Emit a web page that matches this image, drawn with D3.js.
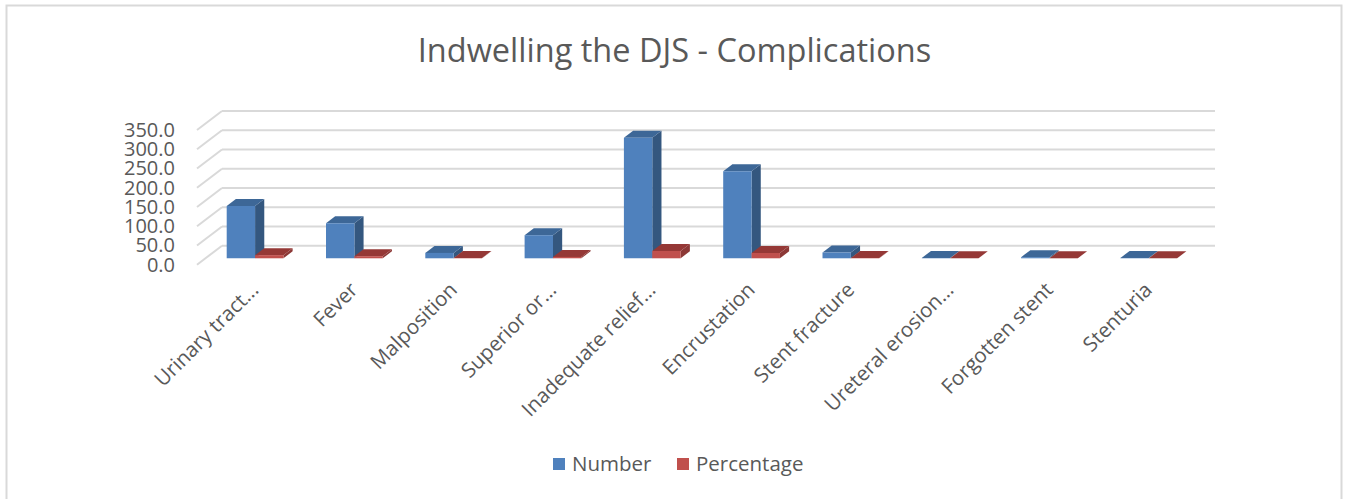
<!DOCTYPE html>
<html lang="en">
<head>
  <meta charset="UTF-8">
  <title>Indwelling the DJS - Complications</title>
  <style>
    body{ margin:0; background:#fff; }
    svg{ display:block; font-family:"Open Sans", sans-serif; }
  </style>
</head>
<body>
  <script src="https://cdn.jsdelivr.net/npm/d3@7"></script>
  <script>
    const categories = ['Urinary tract...', 'Fever', 'Malposition', 'Superior or...', 'Inadequate relief...',
      'Encrustation', 'Stent fracture', 'Ureteral erosion...', 'Forgotten stent', 'Stenturia'];
    const numberValues = [136, 91, 14, 60, 313, 226, 15, 1, 3, 1];
    const percentValues = [8.2, 5.5, 0.8, 3.6, 19, 13.7, 0.9, 0.1, 0.2, 0.1];
    const seriesNames = ['Number', 'Percentage'];
    const yTicks = [0, 50, 100, 150, 200, 250, 300, 350];

    const w = 1347, h = 499;
    // back wall box + oblique depth vector (back -> front)
    const wall = { left: 222, right: 1215, top: 111, bottom: 245.7 };
    const depth = { dx: -25, dy: 19 };
    const barZ = [0.295, 0.663]; // bar back / front, fraction of floor depth

    const colors = {
      Number: { front: '#4f81bd', side: '#34577f', top: '#3d6797' },
      Percentage: { front: '#c0504d', side: '#8c3836', top: '#953836' }
    };

    const svg = d3.select('body').append('svg').attr('width', w).attr('height', h);

    svg.append('rect').attr('x', 6.5).attr('y', 5.5).attr('width', 1335).attr('height', 510)
      .attr('fill', '#fff').attr('stroke', '#d9d9d9').attr('stroke-width', 2);

    const y = d3.scaleLinear().domain([0, 350]).range([wall.bottom, wall.top]);
    const x0 = d3.scaleBand().domain(categories).range([wall.left, wall.right]);
    const x1 = d3.scaleBand().domain(seriesNames).range([0, x0.bandwidth()]).paddingInner(0).paddingOuter(0.75);

    const P = (xb, yb, z) => [xb + depth.dx * z, yb + depth.dy * z];

    // gridlines: back wall + side wall
    const grid = svg.append('g').attr('stroke', '#d9d9d9').attr('stroke-width', 2).attr('fill', 'none');
    yTicks.forEach(t => {
      const yy = y(t);
      grid.append('line').attr('x1', wall.left).attr('x2', wall.right).attr('y1', yy).attr('y2', yy);
      const f = P(wall.left, yy, 1);
      grid.append('line').attr('x1', wall.left).attr('y1', yy).attr('x2', f[0]).attr('y2', f[1]);
    });

    // value axis labels on the front plane
    svg.append('g').selectAll('text').data(yTicks).join('text')
      .attr('x', P(wall.left, 0, 1)[0] - 22)
      .attr('y', d => P(0, y(d), 1)[1])
      .attr('dy', '0.35em')
      .attr('text-anchor', 'end')
      .attr('fill', '#595959')
      .attr('font-size', 20)
      .text(d3.format('.1f'));

    // bars
    const rows = [];
    categories.forEach((c, i) => {
      rows.push({ cat: c, s: 'Number', v: numberValues[i] });
      rows.push({ cat: c, s: 'Percentage', v: percentValues[i] });
    });

    const bars = svg.append('g');
    const line = d3.line();
    rows.forEach(d => {
      const xl = x0(d.cat) + x1(d.s), xr = xl + x1.bandwidth();
      const yt = y(d.v), yb = y(0);
      const zb = barZ[0], zf = barZ[1];
      const col = colors[d.s];
      const g = bars.append('g');
      // right side
      g.append('path').attr('fill', col.side).attr('d', line([
        P(xr, yt, zf), P(xr, yt, zb), P(xr, yb, zb), P(xr, yb, zf)
      ]) + 'Z');
      // top
      g.append('path').attr('fill', col.top).attr('d', line([
        P(xl, yt, zf), P(xl, yt, zb), P(xr, yt, zb), P(xr, yt, zf)
      ]) + 'Z');
      // front
      g.append('path').attr('fill', col.front).attr('d', line([
        P(xl, yt, zf), P(xr, yt, zf), P(xr, yb, zf), P(xl, yb, zf)
      ]) + 'Z');
    });

    // category labels, rotated
    svg.append('g').selectAll('text').data(categories).join('text')
      .attr('transform', d => {
        const cx = P(x0(d) + x0.bandwidth() / 2, 0, 1)[0] + 8;
        return `translate(${cx},286) rotate(-45)`;
      })
      .attr('dy', '0.35em')
      .attr('text-anchor', 'end')
      .attr('fill', '#595959')
      .attr('font-size', 20.5)
      .text(d => d);

    // title
    svg.append('text').attr('x', 674.5).attr('y', 62).attr('text-anchor', 'middle')
      .attr('fill', '#595959').attr('font-size', 32.5).text('Indwelling the DJS - Complications');

    // legend
    const legend = svg.append('g').attr('transform', 'translate(553,464)');
    const lx = [0, 124];
    seriesNames.forEach((s, i) => {
      const g = legend.append('g').attr('transform', `translate(${lx[i]},0)`);
      g.append('rect').attr('x', 0).attr('y', -6).attr('width', 12).attr('height', 12).attr('fill', colors[s].front);
      g.append('text').attr('x', 19).attr('dy', '0.35em').attr('fill', '#595959').attr('font-size', 20.5).text(s);
    });
  </script>
</body>
</html>
